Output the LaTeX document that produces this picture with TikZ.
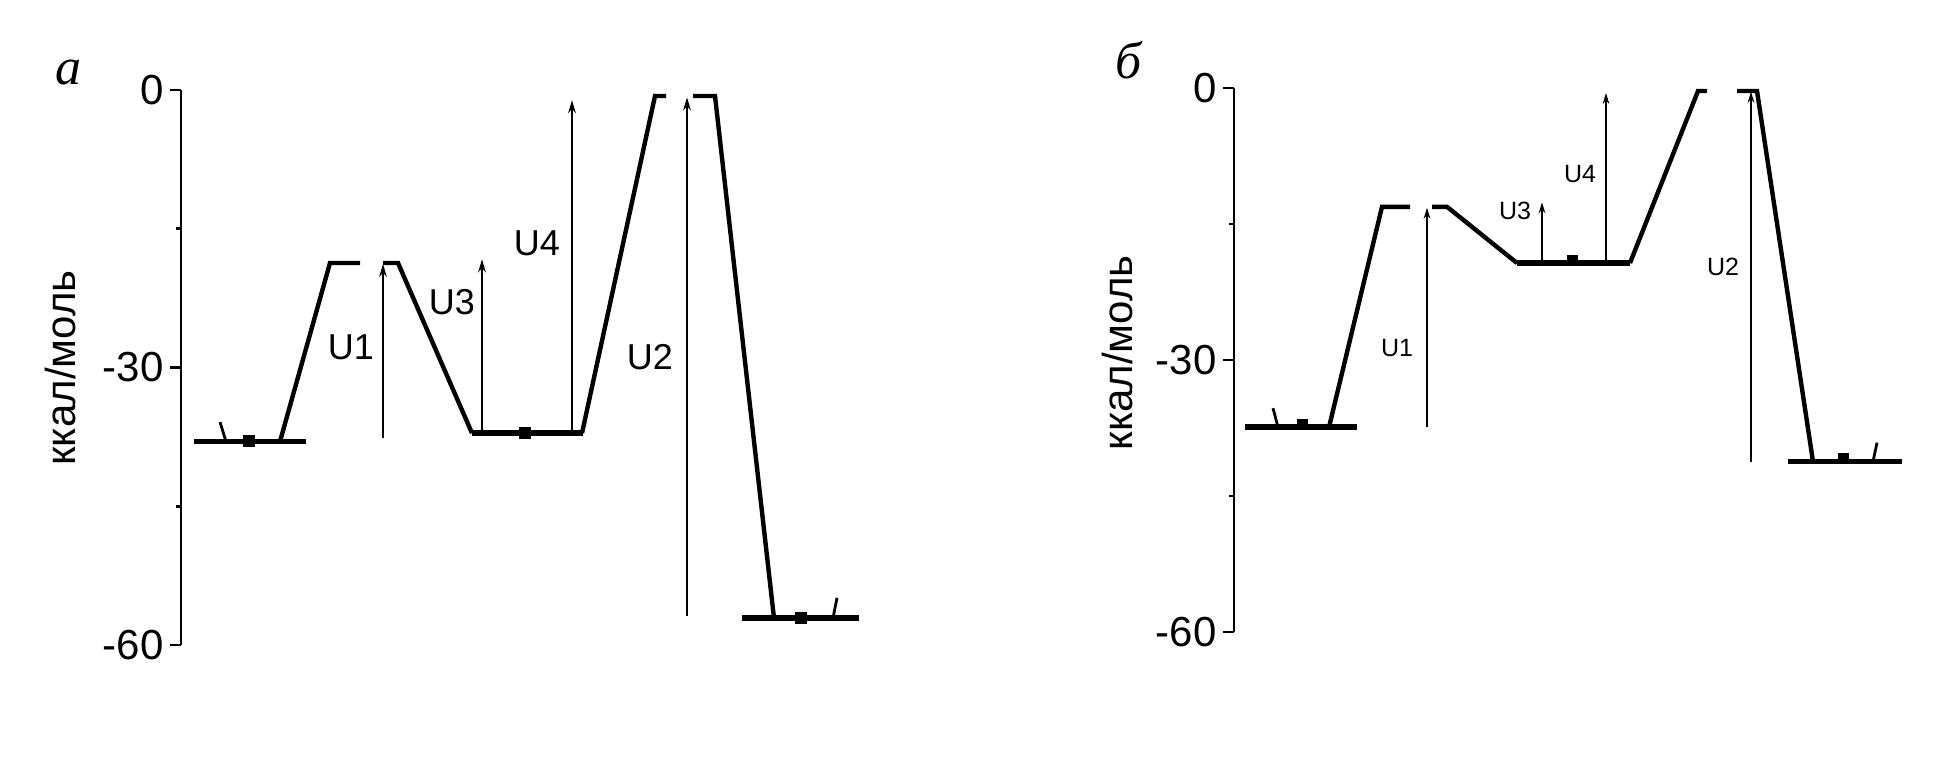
\documentclass[tikz,border=0pt]{standalone}
\usepackage{fontspec}
\setmainfont{Liberation Sans}
\newfontfamily\letterfont{Liberation Serif}
\usetikzlibrary{arrows.meta}

\begin{document}
\begin{tikzpicture}
[x=0.5pt,y=0.5pt,>={Stealth[length=6.5pt,width=3.8pt]},
level/.style = {line width=2.8pt},
slope/.style = {line width=2.2pt},
jump/.style = {->, line width=1.1pt},
sqr/.style = {fill=black, minimum size=6pt, inner sep=0pt},
flag/.style = {line width=1.4pt},
axis/.style = {line width=1.3pt},
ticklab/.style = {anchor=east, inner sep=0pt, font=\fontsize{21}{25}\selectfont},
axlab/.style = {rotate=90, inner sep=0pt, font=\fontsize{21}{25}\selectfont},
panel/.style = {inner sep=0pt, font=\fontsize{26}{30}\selectfont\letterfont\itshape},
ulab/.style = {inner sep=0pt, font=\fontsize{18}{22}\selectfont},
]
\useasboundingbox (0,0) rectangle (1933,758);

% panel a
\begin{scope}[shift={(0,668)},y=4.625pt]
\node[panel] (la) at (68,1.9) {а};
\node[axlab] (ya) at (60,-30.05) {ккал/моль};
\draw[axis] (181,0) -- (181,-60);
\foreach \e in {0,-30,-60}{
  \draw[axis] (170,\e) -- (181,\e);
  \node[ticklab] at (164,\e) {\e};
}
\foreach \e in {-15,-45} \draw[axis] (176,\e) -- (181,\e);

\draw[level] (194,-38) -- (306,-38);
\draw[slope] (280,-38) -- (330,-18.7) -- (360,-18.7);
\draw[slope] (383,-18.7) -- (398,-18.7) -- (472,-37.1);
\draw[level] (472,-37.1) -- (583,-37.1);
\draw[slope] (582,-37.1) -- (655,-0.65) -- (666,-0.65);
\draw[slope] (693,-0.65) -- (715,-0.65) -- (774,-57.1);
\draw[level] (742,-57.1) -- (859,-57.1);
\node[sqr] (ra) at (249,-38) {};
\node[sqr] (ia) at (525,-37.1) {};
\node[sqr] (pa) at (801,-57.1) {};
\draw[flag] (226,-38) -- (220,-35.9);
\draw[flag] (833,-57.1) -- (837,-54.9);

\coordinate (u1s) at (383,-37.6);
\coordinate (u1e) at (383,-18.8);
\coordinate (u3s) at (482,-37.1);
\coordinate (u3e) at (482,-18.3);
\coordinate (u4s) at (572,-37.1);
\coordinate (u4e) at (572,-1.1);
\coordinate (u2s) at (687,-56.9);
\coordinate (u2e) at (687,-0.8);
\draw[jump] (u1s) -- (u1e);
\draw[jump] (u3s) -- (u3e);
\draw[jump] (u4s) -- (u4e);
\draw[jump] (u2s) -- (u2e);
\node[ulab] (U1a) at (351,-27.8) {U1};
\node[ulab] (U3a) at (452,-22.9) {U3};
\node[ulab] (U4a) at (537,-16.6) {U4};
\node[ulab] (U2a) at (650,-28.9) {U2};
\end{scope}

% panel b
\begin{scope}[shift={(0,670)},y=4.535pt,
  >={Stealth[length=5.5pt,width=3.3pt]},
  ulab/.style = {inner sep=0pt, font=\fontsize{12.5}{15}\selectfont},
  sqr/.style = {fill=black, minimum width=5.5pt, minimum height=4pt, inner sep=0pt}]
\node[panel] (lb) at (1129,3.1) {б};
\node[axlab] (yb) at (1117,-29.2) {ккал/моль};
\draw[axis] (1234,0) -- (1234,-60);
\foreach \e in {0,-30,-60}{
  \draw[axis] (1223,\e) -- (1234,\e);
  \node[ticklab] at (1217,\e) {\e};
}
\foreach \e in {-15,-45} \draw[axis] (1229,\e) -- (1234,\e);

\draw[level] (1245,-37.4) -- (1357,-37.4);
\draw[slope] (1329,-37.4) -- (1382,-13.1) -- (1410,-13.1);
\draw[slope] (1432,-13.1) -- (1447,-13.1) -- (1517,-19.3);
\draw[level] (1517,-19.3) -- (1630,-19.3);
\draw[slope] (1630,-19.3) -- (1698,-0.33) -- (1707,-0.33);
\draw[slope] (1737,-0.33) -- (1757,-0.33) -- (1813,-41.2);
\draw[level] (1788,-41.2) -- (1902,-41.2);
\node[sqr] (rb) at (1302,-36.9) {};
\node[sqr] (ib) at (1572,-18.8) {};
\node[sqr] (pb) at (1843,-40.7) {};
\draw[flag] (1278,-37.4) -- (1273,-35.3);
\draw[flag] (1873,-41.2) -- (1877,-39.1);

\coordinate (v1s) at (1427,-37.4);
\coordinate (v1e) at (1427,-13.2);
\coordinate (v3s) at (1542,-19.3);
\coordinate (v3e) at (1542,-12.6);
\coordinate (v4s) at (1606,-19.3);
\coordinate (v4e) at (1606,-0.55);
\coordinate (v2s) at (1751,-41.2);
\coordinate (v2e) at (1751,-0.4);
\draw[jump] (v1s) -- (v1e);
\draw[jump] (v3s) -- (v3e);
\draw[jump] (v4s) -- (v4e);
\draw[jump] (v2s) -- (v2e);
\node[ulab] (U1b) at (1397,-28.7) {U1};
\node[ulab] (U3b) at (1515,-13.6) {U3};
\node[ulab] (U4b) at (1580,-9.5) {U4};
\node[ulab] (U2b) at (1723,-19.7) {U2};
\end{scope}

\end{tikzpicture}
\end{document}
